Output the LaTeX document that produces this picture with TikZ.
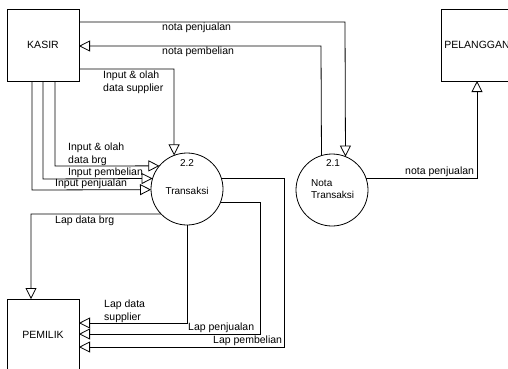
\documentclass[tikz,border=0pt]{standalone}
\usepackage{fontspec}
\setmainfont{Liberation Sans}
\usetikzlibrary{arrows.meta}
\begin{document}
\begin{tikzpicture}[x=1pt,y=-1pt,
  ent/.style={draw, line width=0.8pt, minimum width=72pt, minimum height=72pt, inner sep=0pt, outer sep=0pt, font=\fontsize{10.5}{12}\selectfont},
  proc/.style={draw, line width=0.8pt, circle, minimum size=72pt, inner sep=0pt, outer sep=0pt},
  flow/.style={draw, line width=0.8pt, -{Triangle[open,length=11pt,width=11pt]}},
  lbl/.style={font=\fontsize{10.5}{13}\selectfont, inner sep=0pt, anchor=west, align=left},
  ctr/.style={font=\fontsize{10}{12}\selectfont, inner sep=0pt, anchor=center}]
\clip (0,0) rectangle (508,368);
\fill[white] (0,0) rectangle (508,368);
% entities
\node[ent] (kasir) at (43,45) {KASIR};
\node[ent] (pelanggan) at (477,45) {PELANGGAN};
\node[ent] (pemilik) at (43,335) {PEMILIK};
% processes
\node[proc] (c22) at (187,189) {};
\node[proc] (c21) at (332,190) {};
\node[ctr] (t22a) at (187,163) {2.2};
\node[ctr] (t22b) at (187,191) {Transaksi};
\node[ctr] (t21a) at (333,163) {2.1};
\node[lbl, font=\fontsize{10}{12}\selectfont] (t21b) at (311,189) {Nota\\Transaksi};
% bend coordinates
\coordinate (b1) at (345,22);
\coordinate (b2) at (321,46);
\coordinate (b3) at (174,69);
\coordinate (b4) at (55,166);
\coordinate (b5) at (43,179);
\coordinate (b6) at (32,190);
\coordinate (b7) at (31,214);
\coordinate (b8) at (187,323);
\coordinate (b9) at (260,334);
\coordinate (b10) at (284,347);
% flows
\draw[flow] (kasir.east |- b1) -- (b1) -- (c21.68.8);
\draw[flow] (c21.107.8) -- (b2) -- (kasir.east |- b2);
\draw[flow] (kasir.east |- b3) -- (b3) -- (c22.111.2);
\draw[flow] (kasir.south -| b4) -- (b4) -- (c22.140.3);
\draw[flow] (kasir.south -| b5) -- (b5) -- (c22.163.9);
\draw[flow] (kasir.south -| b6) -- (b6) -- (c22.181.6);
\draw[flow] (c22.224) -- (b7) -- (pemilik.north -| b7);
\draw[flow] (c22.south) -- (b8) -- (pemilik.east |- b8);
\draw[flow] (c22.-21.2) -| (b9) -- (pemilik.east |- b9);
\draw[flow] (c22.17.8) -| (b10) -- (pemilik.east |- b10);
\draw[flow] (c21.19.5) -| (pelanggan.south);
% labels
\node[lbl] (l1) at (162,28) {nota penjualan};
\node[lbl] (l2) at (162,52) {nota pembelian};
\node[lbl] (l3) at (103,82.5) {Input \& olah\\data supplier};
\node[lbl] (l4) at (68,154.5) {Input \& olah\\data brg};
\node[lbl] (l5) at (68,173) {Input pembelian};
\node[lbl] (l6) at (55,184) {Input penjualan};
\node[lbl] (l7) at (55,221) {Lap data brg};
\node[lbl] (l8) at (104,311.5) {Lap data\\supplier};
\node[lbl] (l9) at (188,328) {Lap penjualan};
\node[lbl] (l10) at (213,341) {Lap pembelian};
\node[lbl] (l11) at (405,172) {nota penjualan};
\end{tikzpicture}
\end{document}
